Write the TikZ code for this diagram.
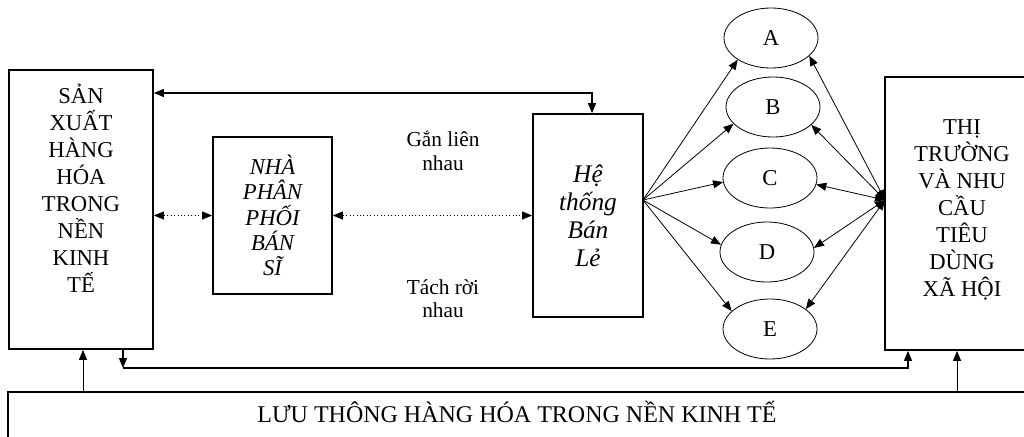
\documentclass[tikz,border=0pt]{standalone}
\usepackage{fontspec}
\setmainfont{Liberation Serif}
\usetikzlibrary{arrows.meta,shapes.geometric}

\tikzset{
  box/.style 2 args={draw, line width=1.3pt, minimum width=#1*0.75pt, minimum height=#2*0.75pt, inner sep=0pt},
  boxtext/.style={align=center, inner sep=0pt, font=\fontsize{17}{20.25}\selectfont},
  oval/.style={draw, semithick, ellipse, minimum width=70.5pt, minimum height=45pt, inner sep=0pt, font=\fontsize{17}{20}\selectfont},
  linktext/.style={align=center, inner sep=0pt, font=\fontsize{16}{17.5}\selectfont},
}

\begin{document}
\begin{tikzpicture}[x=0.75pt, y=-0.75pt, >={Triangle[length=7.5pt, width=6pt]}, semithick]

  \useasboundingbox (0,0) rectangle (1024,436);
  \clip (0,0) rectangle (1024,436);

  % boxes
  \node[box={144}{279}] (sx) at (81,209.5) {};
  \node[boxtext] (sxtext) at (81,188) {SẢN\\XUẤT\\HÀNG\\HÓA\\TRONG\\NỀN\\KINH\\TẾ};

  \node[box={119}{157}, boxtext, font=\itshape\fontsize{17}{19}\selectfont] (npp) at (272.5,215.5) {NHÀ\\PHÂN\\PHỐI\\BÁN\\SĨ};

  \node[box={110}{203}, boxtext, font=\itshape\fontsize{19}{21}\selectfont] (hts) at (588,215.5) {Hệ\\thống\\Bán\\Lẻ};

  \node[box={154}{273}] (tt) at (962,213.5) {};
  \node[boxtext] (tttext) at (962,210) {THỊ\\TRƯỜNG\\VÀ NHU\\CẦU\\TIÊU\\DÙNG\\XÃ HỘI};

  \node[box={1030}{80}] (lt) at (523,432) {};
  \node[boxtext, font=\fontsize{18}{20}\selectfont] (lttext) at (517,412) {LƯU THÔNG HÀNG HÓA TRONG NỀN KINH TẾ};

  % ovals
  \node[oval] (A) at (771,38) {A};
  \node[oval] (B) at (773,107) {B};
  \node[oval] (C) at (770,178) {C};
  \node[oval] (D) at (767,252) {D};
  \node[oval] (E) at (770,329) {E};

  \node[linktext] (gan) at (443,151) {Gắn liên\\nhau};
  \node[linktext] (tach) at (443,299) {Tách rời\\nhau};

  \coordinate (top) at (592,93);
  \coordinate (fan) at (643,200);
  \coordinate (sink) at (885,200);
  \coordinate (busL) at (123,368);
  \coordinate (busR) at (908,368);

  % links
  \draw[<->, thick] (sx.east |- top) -- (top) -- (top |- hts.north);
  \draw[<->, dotted] (sx.east |- npp.west) -- (npp.west);
  \draw[<->, dotted] (npp.east) -- (hts.west |- npp.east);

  \draw[->] (fan) -- (A.213);
  \draw[->] (fan) -- (B.203);
  \draw[->] (fan) -- (C.185);
  \draw[->] (fan) -- (D.171);
  \draw[->] (fan) -- (E.155);

  \draw[<->] (sink) -- (A.-25);
  \draw[<->] (sink) -- (B.-25);
  \draw[<->] (sink) -- (C.-8);
  \draw[<->] (sink) -- (D.5);
  \draw[<->] (sink) -- (E.29);

  \draw[->, thick] (sx.south -| busL) -- (busL);
  \draw[->, thick] (busL) -- (busR) -- (tt.south -| busR);
  \draw[->] (lt.north -| 83,0) -- (sx.south -| 83,0);
  \draw[->] (lt.north -| 957,0) -- (tt.south -| 957,0);

\end{tikzpicture}
\end{document}
